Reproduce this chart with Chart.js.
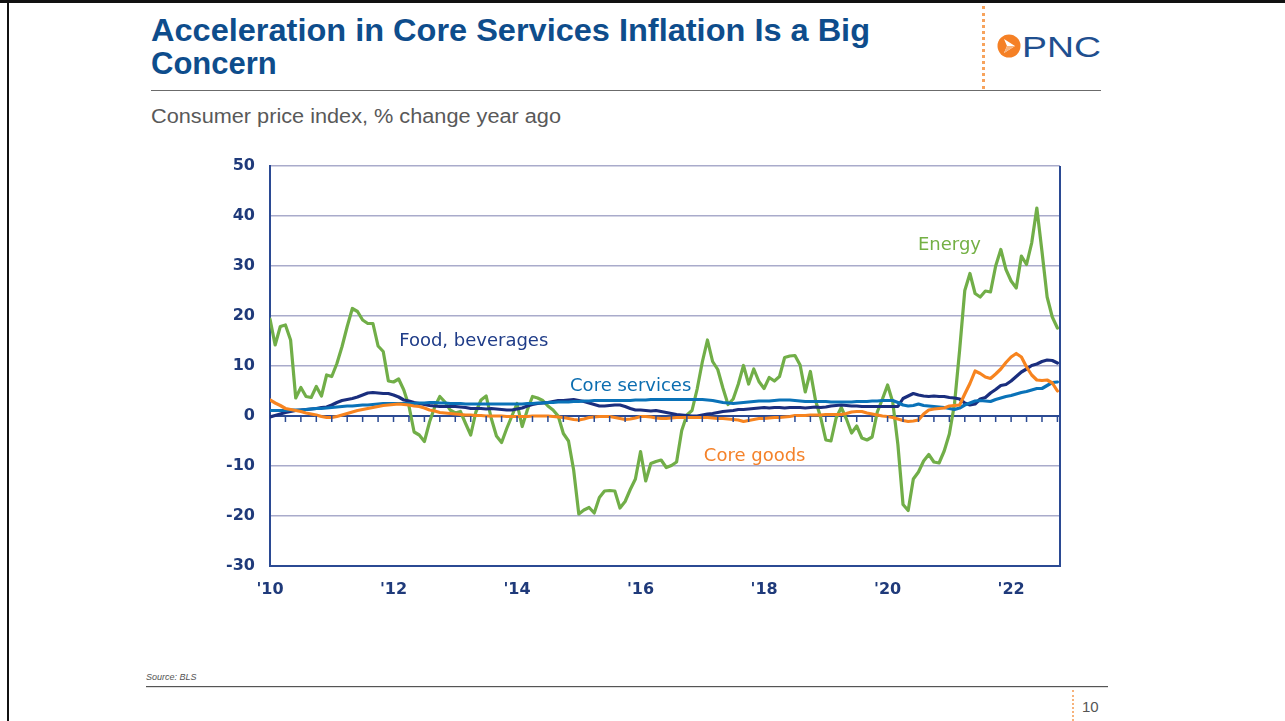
<!DOCTYPE html>
<html><head><meta charset="utf-8">
<script src="https://cdn.jsdelivr.net/npm/chart.js@4.4.0/dist/chart.umd.min.js"></script>
<style>
html,body{margin:0;padding:0;background:#fff;width:1285px;height:721px;overflow:hidden;}
#page{position:relative;width:1285px;height:721px;background:#fff;}
.topbar{position:absolute;left:0;top:0;width:1285px;height:3px;background:#111;}
.leftbar{position:absolute;left:7px;top:0;width:2px;height:721px;background:#111;}
.t{position:absolute;white-space:nowrap;transform-origin:0 0;display:inline-block;}
.title{font-family:"Liberation Sans",Arial,sans-serif;font-weight:bold;font-size:31px;line-height:33px;color:#0E4D8C;}
#sub{left:151px;top:104px;font-family:"Liberation Sans",Arial,sans-serif;font-size:20px;line-height:24px;color:#595959;}
#rule1{position:absolute;left:151px;top:90px;width:950px;height:1px;background:#6b6b6b;}
#dots1{position:absolute;left:982px;top:6px;height:83px;border-left:3px dotted #F7A35C;}
#pnc{left:1022px;top:30px;font-family:"Liberation Sans",Arial,sans-serif;font-size:30px;line-height:34px;color:#1F4F8F;}
#logo{position:absolute;left:997px;top:34px;}
#chartbox{position:absolute;left:200px;top:150px;width:880px;height:460px;}
#src{left:146px;top:672px;font-family:"Liberation Sans",Arial,sans-serif;font-style:italic;font-size:9px;line-height:11px;color:#555;}
#rule2{position:absolute;left:146px;top:686px;width:962px;height:1px;background:#555;border-bottom:1px solid #ddd;}
#dots2{position:absolute;left:1072px;top:690px;height:31px;border-left:2px dotted #F7B27A;}
#pg{left:1082px;top:698px;font-family:"Liberation Sans",Arial,sans-serif;font-size:15px;line-height:18px;color:#555;}
</style></head>
<body><div id="page">
<div class="topbar"></div><div class="leftbar"></div>
<div id="t1" class="t title" style="left:151px;top:14px;">Acceleration in Core Services Inflation Is a Big</div>
<div id="t2" class="t title" style="left:151px;top:47px;">Concern</div>
<div id="rule1"></div>
<div id="dots1"></div>
<svg id="logo" width="24" height="24" viewBox="0 0 24 24"><circle cx="12" cy="12" r="11.5" fill="#F58025"/><path d="M7 5 L18 12 L7 19 L10 12 Z" fill="#fff"/><path d="M10 12 L18 12 L7 19 Z" fill="#F9B27A"/></svg>
<div id="pnc" class="t">PNC</div>
<div id="sub" class="t">Consumer price index, % change year ago</div>
<div id="chartbox"><canvas id="c" width="880" height="460"></canvas></div>
<div id="src" class="t">Source: BLS</div>
<div id="rule2"></div>
<div id="dots2"></div>
<div id="pg" class="t">10</div>
</div>
<script>
// Monthly, Jan 2010 .. Oct 2022 (% change year ago)
const energy = [
19.4,14.2,17.9,18.2,15.2,3.6,5.7,3.9,3.7,5.9,4.0,8.2,
7.9,10.5,13.9,17.9,21.5,20.9,19.2,18.5,18.5,14.0,12.9,7.0,
6.8,7.4,5.2,2.0,-3.2,-3.8,-5.1,-1.2,1.8,3.9,2.8,1.2,
0.6,0.9,-1.5,-3.8,0.8,3.2,4.0,-0.5,-4.0,-5.3,-2.5,0.0,
2.5,-2.1,1.2,3.9,3.6,3.1,2.0,1.2,0.0,-3.5,-5.0,-10.8,
-19.6,-18.8,-18.3,-19.4,-16.3,-15.0,-14.9,-15.0,-18.4,-17.1,-14.7,-12.6,
-7.1,-13.0,-9.5,-9.1,-8.8,-10.3,-9.9,-9.2,-2.9,0.2,1.1,5.4,
10.8,15.2,10.9,9.3,5.6,2.3,3.4,6.4,10.1,6.4,9.4,6.9,
5.5,7.7,7.0,7.9,11.7,12.0,12.1,10.2,4.8,8.9,3.1,-0.3,
-4.8,-5.0,-0.4,1.7,-0.6,-3.4,-2.0,-4.4,-4.8,-4.2,0.8,3.4,
6.2,2.8,-5.7,-17.7,-18.9,-12.6,-11.2,-9.0,-7.7,-9.2,-9.4,-7.0,
-3.6,2.4,13.2,25.1,28.5,24.5,23.8,25.0,24.8,30.0,33.3,29.3,
27.0,25.6,32.0,30.3,34.6,41.6,32.9,23.8,19.8,17.6];
const foodBeverages = [
-0.2,0.1,0.4,0.7,0.9,1.1,1.2,1.3,1.4,1.5,1.7,1.8,
2.2,2.7,3.1,3.3,3.5,3.8,4.2,4.6,4.7,4.6,4.5,4.5,
4.2,3.8,3.2,3.0,2.7,2.5,2.3,2.1,2.0,1.9,1.9,1.9,
1.9,1.8,1.7,1.5,1.5,1.5,1.4,1.5,1.4,1.3,1.2,1.2,
1.4,1.6,2.0,2.3,2.5,2.6,2.7,2.9,3.1,3.1,3.2,3.3,
3.1,2.9,2.6,2.3,2.0,2.0,2.1,2.2,2.2,1.9,1.5,1.2,
1.2,1.1,1.0,1.1,0.9,0.7,0.5,0.3,0.2,0.1,0.0,0.0,
0.2,0.4,0.5,0.7,0.9,1.0,1.1,1.3,1.3,1.4,1.5,1.6,
1.7,1.6,1.7,1.7,1.6,1.7,1.7,1.7,1.6,1.7,1.8,1.7,
1.8,2.0,2.1,2.2,2.1,2.0,2.0,1.9,1.9,1.9,1.9,1.9,
1.9,1.9,1.9,3.5,4.0,4.5,4.2,4.0,3.9,4.0,3.9,3.9,
3.7,3.6,3.4,2.6,2.2,2.4,3.4,3.7,4.6,5.3,6.1,6.3,
7.0,7.9,8.8,9.4,10.1,10.4,10.9,11.2,11.1,10.6];
const coreServices = [
1.1,1.1,1.1,1.1,1.2,1.2,1.2,1.3,1.4,1.5,1.5,1.6,
1.7,1.8,1.9,2.0,2.0,2.1,2.2,2.2,2.3,2.4,2.5,2.5,
2.5,2.5,2.5,2.5,2.5,2.6,2.6,2.7,2.7,2.6,2.6,2.5,
2.5,2.5,2.4,2.4,2.4,2.4,2.4,2.4,2.4,2.4,2.4,2.4,
2.4,2.4,2.5,2.5,2.6,2.6,2.7,2.7,2.8,2.8,2.8,2.9,
2.9,3.0,3.0,3.1,3.1,3.1,3.1,3.1,3.1,3.1,3.1,3.2,
3.2,3.2,3.3,3.3,3.3,3.3,3.3,3.3,3.3,3.3,3.3,3.3,
3.3,3.2,3.1,2.9,2.7,2.6,2.5,2.6,2.7,2.8,2.9,3.0,
3.0,3.0,3.1,3.2,3.2,3.2,3.1,3.0,2.9,2.9,2.9,2.9,
2.9,2.8,2.8,2.8,2.8,2.8,2.9,2.9,2.9,3.0,3.0,3.1,
3.1,3.1,2.7,2.2,2.0,2.1,2.4,2.1,2.0,1.9,1.8,1.7,
1.5,1.3,1.6,2.2,2.6,3.0,3.1,3.0,2.9,3.3,3.6,3.9,
4.1,4.4,4.7,4.9,5.2,5.5,5.5,6.1,6.7,6.8];
const coreGoods = [
3.2,2.6,2.1,1.5,1.3,1.1,0.9,0.6,0.4,0.2,-0.1,-0.3,
-0.3,-0.1,0.2,0.5,0.8,1.1,1.3,1.5,1.7,1.9,2.1,2.2,
2.3,2.4,2.3,2.2,2.0,1.9,1.6,1.2,1.0,0.7,0.6,0.5,
0.4,0.3,0.2,0.2,0.1,0.1,0.0,0.0,0.0,0.0,-0.1,-0.1,
-0.1,-0.1,-0.1,0.0,0.0,0.0,0.0,-0.1,-0.2,-0.3,-0.5,-0.7,
-0.8,-0.6,-0.3,-0.2,-0.1,-0.1,-0.1,-0.3,-0.5,-0.7,-0.6,-0.4,
-0.1,-0.1,-0.2,-0.4,-0.5,-0.5,-0.4,-0.3,-0.3,-0.3,-0.3,-0.3,
-0.3,-0.3,-0.4,-0.5,-0.5,-0.6,-0.7,-0.8,-1.1,-0.9,-0.7,-0.5,
-0.5,-0.4,-0.3,-0.3,-0.2,-0.1,0.1,0.1,0.1,0.2,0.2,0.2,
0.3,0.3,0.3,0.3,0.5,0.8,0.9,0.9,0.6,0.4,0.2,0.0,
-0.1,-0.3,-0.6,-0.9,-1.1,-1.0,-0.8,0.4,1.2,1.4,1.5,1.6,
2.0,2.1,2.2,4.4,6.5,9.0,8.5,7.8,7.5,8.4,9.4,10.7,
11.8,12.5,11.8,9.8,8.2,7.2,7.1,7.2,6.6,5.0];
const xTickLabels = ["'10","'12","'14","'16","'18","'20","'22"];
const seriesNames = ["Energy","Food, beverages","Core services","Core goods"];

function fit(id, w){const el=document.getElementById(id);const k=w/el.getBoundingClientRect().width;el.style.transform='scaleX('+k+')';}
fit('t1',719); fit('sub',410); fit('pnc',79);

const AXIS='#2B4A93', TICK='#1F3A7A';
const toXY = arr => arr.map((v,i)=>({x:i,y:v}));

const inlineLabels = {
  id:'inlineLabels',
  afterDatasetsDraw(chart, args, opts){
    const {ctx, scales:{x,y}} = chart;
    ctx.save();
    ctx.font = '18px "DejaVu Sans", Verdana, sans-serif';
    ctx.textAlign='left'; ctx.textBaseline='middle';
    opts.items.forEach(it=>{ctx.fillStyle=it.color; ctx.fillText(it.text, x.getPixelForValue(it.at[0]), y.getPixelForValue(it.at[1]));});
    ctx.restore();
  }
};
const frameAndTicks = {
  id:'frameAndTicks',
  afterDraw(chart){
    const {ctx, chartArea:a, scales:{x,y}} = chart;
    ctx.save();
    ctx.strokeStyle=AXIS; ctx.lineWidth=2;
    ctx.beginPath(); ctx.moveTo(a.right, a.top); ctx.lineTo(a.right, a.bottom); ctx.stroke();
    const y0 = y.getPixelForValue(0);
    ctx.lineWidth=1.5;
    ctx.beginPath();
    for(let m=3; m<=energy.length; m+=3){const px=x.getPixelForValue(m); if(px>a.right-1) break; ctx.moveTo(px,y0); ctx.lineTo(px,y0+6);}
    ctx.stroke();
    ctx.restore();
  }
};

new Chart(document.getElementById('c'), {
  type:'line',
  data:{datasets:[
    {label:seriesNames[3], data:toXY(coreGoods), borderColor:'#F7841F'},
    {label:seriesNames[2], data:toXY(coreServices), borderColor:'#0A72B8'},
    {label:seriesNames[1], data:toXY(foodBeverages), borderColor:'#1A2E7E'},
    {label:seriesNames[0], data:toXY(energy), borderColor:'#71AE48'}
  ]},
  options:{
    responsive:false, animation:false, devicePixelRatio:1,
    layout:{padding:{top:16,right:20,left:0,bottom:0}},
    elements:{point:{radius:0}, line:{borderWidth:3.2, tension:0, borderCapStyle:'round', borderJoinStyle:'round'}},
    plugins:{legend:{display:false}, tooltip:{enabled:false},
      inlineLabels:{items:[
        {text:seriesNames[0], color:'#74B044', at:[125.9,34.2]},
        {text:seriesNames[1], color:'#1F3C88', at:[25.1,15.0]},
        {text:seriesNames[2], color:'#0B6DB0', at:[58.3,6.0]},
        {text:seriesNames[3], color:'#F4822A', at:[84.3,-8.0]}
      ]}},
    scales:{
      x:{type:'linear', min:0, max:153.5,
        afterFit(s){s.height=44; s.paddingLeft=0; s.paddingRight=0;},
        afterBuildTicks(s){s.ticks=s.ticks.filter(t=>t.value%24===0);},
        ticks:{stepSize:24, includeBounds:false, autoSkip:false, maxRotation:0, padding:14, color:TICK,
          font:{family:'"DejaVu Sans", Verdana, sans-serif', weight:'bold', size:16},
          callback:v=>xTickLabels[v/24]},
        grid:{display:false, drawTicks:false},
        border:{display:true, color:AXIS, width:2}},
      y:{min:-30, max:50,
        afterFit(s){s.width=70; s.paddingTop=0; s.paddingBottom=0;},
        ticks:{stepSize:10, padding:15, color:TICK,
          font:{family:'"DejaVu Sans", Verdana, sans-serif', weight:'bold', size:16}},
        grid:{drawTicks:false, color:c=>c.tick.value===0?AXIS:'#A9ABCB', lineWidth:c=>c.tick.value===0?2:1.5},
        border:{display:true, color:AXIS, width:2}}
    }
  },
  plugins:[inlineLabels, frameAndTicks]
});
</script>
</body></html>
